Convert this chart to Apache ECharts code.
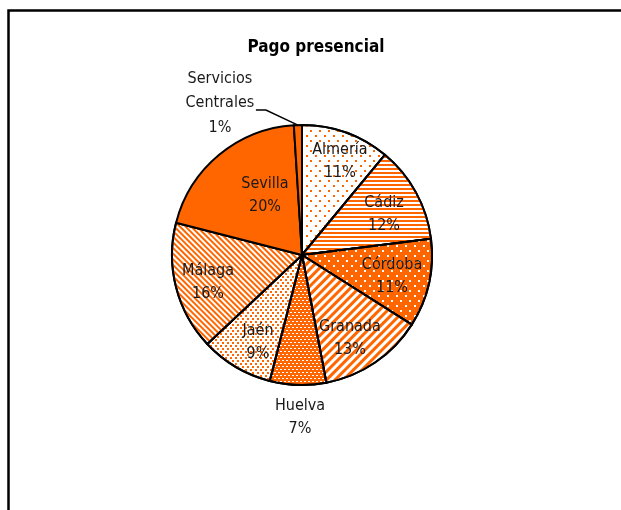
<!DOCTYPE html>
<html>
<head>
<meta charset="utf-8">
<script src="https://cdn.jsdelivr.net/npm/echarts@6/dist/echarts.min.js"></script>
<style>
html,body{margin:0;padding:0;background:#fff;}
#chart{width:621px;height:510px;}
</style>
</head>
<body>
<div id="chart"></div>
<script>
const categories = ['Almería', 'Cádiz', 'Córdoba', 'Granada', 'Huelva', 'Jaén', 'Málaga', 'Sevilla', 'Servicios\nCentrales'];
const values = [11, 12, 11, 13, 7, 9, 16, 20, 1];
const titleText = 'Pago presencial';

const ORANGE = '#FF6600';
const FONT = "'Liberation Sans Narrow', 'Arial Narrow', 'DejaVu Sans Condensed', sans-serif";
const CX = 302, CY = 255, R = 130;

// styles per slice (base colour + decal pattern)
const styles = [
  { color: '#fff', decal: { symbol: 'rect', symbolSize: 1, color: ORANGE, dashArrayX: [[1.5, 6.5], [0, 4, 1.5, 2.5]], dashArrayY: [1.5, 3] } },
  { color: '#fff', decal: { symbol: 'rect', symbolSize: 1, color: ORANGE, dashArrayX: [1, 0], dashArrayY: [1.2, 1.8] } },
  { color: ORANGE, decal: { symbol: 'rect', symbolSize: 1, color: '#fff', dashArrayX: [[1.5, 6.5], [0, 4, 1.5, 2.5]], dashArrayY: [1.5, 3] } },
  { color: '#fff', decal: { symbol: 'rect', symbolSize: 1, color: ORANGE, dashArrayX: [1, 0], dashArrayY: [3, 3], rotation: -Math.PI / 4 } },
  { color: ORANGE, decal: { symbol: 'rect', symbolSize: 1, color: '#fff', dashArrayX: [[2, 2], [0, 2, 2, 0]], dashArrayY: [1, 2] } },
  { color: '#fff', decal: { symbol: 'rect', symbolSize: 1, color: ORANGE, dashArrayX: [[1.5, 2.5], [0, 2, 1.5, 0.5]], dashArrayY: [1.5, 1] } },
  { color: '#fff', decal: { symbol: 'rect', symbolSize: 1, color: ORANGE, dashArrayX: [1, 0], dashArrayY: [1.5, 1.5], rotation: Math.PI / 4 } },
  { color: ORANGE },
  { color: ORANGE }
];
// label placement: distance from centre (fraction of radius) and angular offset (deg) from slice middle
const labelDist = [0.776, 0.704, 0.711, 0.737, 1.246, 0.753, 0.752, 0.539, null];
const labelTurn = [2.3, 2.5, 0.5, 4.2, -1.1, -3.9, -1.6, 7.7, 0];

const data = categories.map((name, i) => {
  const d = { name: name, value: values[i], itemStyle: { color: styles[i].color } };
  if (styles[i].decal) d.itemStyle.decal = styles[i].decal;
  if (i === categories.length - 1) {
    d.label = { position: 'outside', lineHeight: 24.5 };
    d.labelLine = { show: true };
  }
  return d;
});

const chart = echarts.init(document.getElementById('chart'), null, { renderer: 'canvas' });

const total = values.reduce((a, b) => a + b, 0);
function midAngle(idx) {
  let cum = 0;
  for (let i = 0; i < idx; i++) cum += values[i];
  return (cum + values[idx] / 2) / total * 2 * Math.PI;
}

chart.setOption({
  animation: false,
  title: {
    text: titleText,
    left: 311,
    top: 34,
    textAlign: 'center',
    textStyle: { fontFamily: FONT, fontWeight: 'bold', fontSize: 17, color: '#000' }
  },
  graphic: [{
    type: 'polyline',
    shape: { points: [[8.5, 512], [8.5, 10.5], [625, 10.5]] },
    style: { stroke: '#000', lineWidth: 2.5, fill: null },
    silent: true
  }],
  series: [{
    type: 'pie',
    center: [CX, CY],
    radius: [0, R],
    startAngle: 90,
    clockwise: true,
    silent: true,
    avoidLabelOverlap: false,
    itemStyle: { borderColor: '#000', borderWidth: 2 },
    label: {
      show: true,
      position: 'inside',
      formatter: '{b}\n{c}%',
      fontFamily: FONT,
      fontSize: 16,
      lineHeight: 23,
      color: '#1a1a1a'
    },
    labelLine: { show: false, lineStyle: { color: '#000', width: 1.5 } },
    labelLayout: function (p) {
      const i = p.dataIndex;
      if (labelDist[i] != null) {
        const a = midAngle(i) + labelTurn[i] * Math.PI / 180;
        return {
          x: CX + Math.sin(a) * R * labelDist[i],
          y: CY - Math.cos(a) * R * labelDist[i],
          align: 'center',
          verticalAlign: 'middle'
        };
      }
      const a = midAngle(i);
      const ex = CX + Math.sin(a) * R, ey = CY - Math.cos(a) * R;
      const mx = ex - 32, my = ey - 15;
      const tx = mx - 10;
      return {
        x: tx - 36,
        y: my - 7,
        align: 'center',
        verticalAlign: 'middle',
        labelLinePoints: [[ex, ey], [mx, my], [tx, my]]
      };
    },
    data: data
  }]
});
</script>
</body>
</html>
